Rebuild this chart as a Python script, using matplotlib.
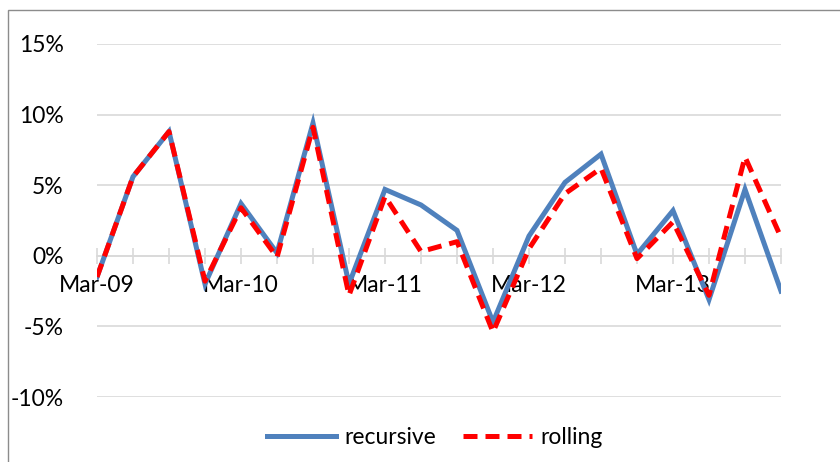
import matplotlib.pyplot as plt
import matplotlib.patches as patches
from matplotlib.ticker import FuncFormatter

# quarterly forecast errors, Mar-09 .. Dec-13
quarters = ['Mar-09', 'Jun-09', 'Sep-09', 'Dec-09',
            'Mar-10', 'Jun-10', 'Sep-10', 'Dec-10',
            'Mar-11', 'Jun-11', 'Sep-11', 'Dec-11',
            'Mar-12', 'Jun-12', 'Sep-12', 'Dec-12',
            'Mar-13', 'Jun-13', 'Sep-13', 'Dec-13']
recursive = [-1.5, 5.6, 8.8, -2.0, 3.7, 0.2, 9.4, -2.0, 4.7, 3.6,
             1.8, -4.7, 1.4, 5.2, 7.2, 0.1, 3.2, -3.1, 4.7, -2.5]
rolling = [-1.5, 5.6, 8.8, -1.8, 3.4, -0.1, 9.1, -2.8, 4.2, 0.3,
           1.0, -5.4, 0.5, 4.4, 6.2, -0.2, 2.4, -2.8, 7.0, 1.3]
yticks = [-10, -5, 0, 5, 10, 15]

plt.rcParams['font.family'] = ['Lato', 'DejaVu Sans']

fig = plt.figure(figsize=(8.4, 4.62), dpi=100)
ax = fig.add_axes([97 / 840, 1 - 397 / 462, 684 / 840, 353 / 462])

x = list(range(len(quarters)))
ax.plot(x, recursive, color='#4F81BD', lw=3.6, solid_joinstyle='miter',
        label='recursive', zorder=3)
ax.plot(x, rolling, color='#FF0000', lw=3.6, dashes=(2.8, 1.6),
        label='rolling', zorder=4)

ax.set_xlim(0, len(quarters) - 1)
ax.set_ylim(-10, 15)
ax.set_yticks(yticks)
ax.yaxis.set_major_formatter(FuncFormatter(lambda v, p: f'{v:.0f}%'))
ax.yaxis.grid(True, color='#d9d9d9', lw=1.2)
ax.set_axisbelow(True)
ax.tick_params(axis='y', length=0, pad=24, labelsize=16.5)

ax.set_xticks(x)
ax.set_xticklabels([q if i % 4 == 0 else '' for i, q in enumerate(quarters)])
ax.tick_params(axis='x', direction='inout', length=11, color='#d9d9d9',
               width=1.2, pad=8, labelsize=16.5)

for side in ['top', 'right', 'left']:
    ax.spines[side].set_visible(False)
ax.spines['bottom'].set_position(('data', 0))
ax.spines['bottom'].set_color('#d9d9d9')
ax.spines['bottom'].set_linewidth(1.2)

# outer chart border
fig.patches.append(patches.Rectangle((8 / 840, -0.2), 2, 1.2 - 10 / 462,
                                     transform=fig.transFigure, fill=False,
                                     edgecolor='#8c8c8c', lw=1))

fig.legend(loc='center', bbox_to_anchor=(435 / 840, 1 - 438 / 462), ncol=2,
           frameon=False, fontsize=16.5, handlelength=3.0, handletextpad=0.35,
           columnspacing=1.2)

fig.savefig('out.png', dpi=100)
